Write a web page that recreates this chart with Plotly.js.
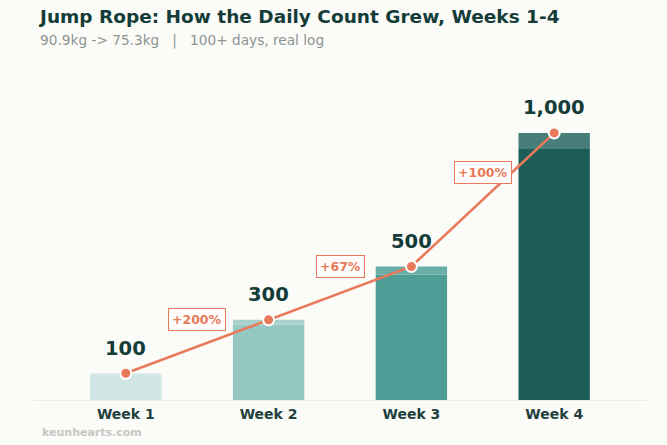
<!DOCTYPE html>
<html>
<head>
<meta charset="utf-8">
<script src="https://cdn.plot.ly/plotly-3.0.1.min.js"></script>
<style>
  html, body { margin: 0; padding: 0; background: #fbfbf8; }
  #chart { width: 667px; height: 445px; }
</style>
</head>
<body>
<div id="chart"></div>
<script>
// Weekly daily jump-rope counts
const weeks = ["Week 1", "Week 2", "Week 3", "Week 4"];
const counts = [100, 300, 500, 1000];
const growthLabels = ["+200%", "+67%", "+100%"];
const countLabels = ["100", "300", "500", "1,000"];

const barColors = ["#d0e7e5", "#96c8c3", "#4f9d97", "#1c5e57"];
const capColors = ["#d6eae8", "#a9d2cd", "#6aaca6", "#477e79"];
const ink = "#143c38";
const accent = "#e8795a";

const xs = weeks.map((_, i) => i);

// main bars
const bars = {
  type: "bar",
  x: xs,
  y: counts.map(v => v * 0.94),
  width: 0.5,
  marker: { color: barColors, line: { width: 0 } },
  hoverinfo: "skip"
};
// lighter cap on top of each bar
const caps = {
  type: "bar",
  x: xs,
  y: counts.map(v => v * 0.06),
  base: counts.map(v => v * 0.94),
  width: 0.5,
  marker: { color: capColors, line: { width: 0 } },
  hoverinfo: "skip"
};
// growth line
const line = {
  type: "scatter",
  mode: "lines+markers",
  x: xs,
  y: counts,
  line: { color: accent, width: 2.6 },
  marker: { size: 11, color: accent, line: { color: "#ffffff", width: 2 } },
  hoverinfo: "skip"
};

const annotations = [];
counts.forEach((v, i) => {
  annotations.push({
    x: i, y: v, xref: "x", yref: "y",
    text: countLabels[i], showarrow: false,
    yshift: 25,
    font: { family: "DejaVu Sans", size: 19.5, color: ink, weight: 700 }
  });
});
growthLabels.forEach((t, i) => {
  annotations.push({
    x: i + 0.5, y: (counts[i] + counts[i + 1]) / 2, xref: "x", yref: "y",
    text: "<b>" + t + "</b>", showarrow: false,
    yshift: 27,
    bgcolor: "#fffdfb", bordercolor: accent, borderwidth: 1, borderpad: 3,
    font: { family: "DejaVu Sans", size: 12.5, color: accent }
  });
});
annotations.push({
  xref: "paper", yref: "paper", x: 0.011, y: -0.097,
  xanchor: "left", yanchor: "middle", showarrow: false,
  text: "<b>keunhearts.com</b>",
  font: { family: "DejaVu Sans", size: 11, color: "#c3c8c6" }
});
annotations.push({
  xref: "paper", yref: "paper", x: 0.008, y: 1.056,
  xanchor: "left", yanchor: "middle", showarrow: false,
  text: "90.9kg -> 75.3kg   |   100+ days, real log",
  font: { family: "DejaVu Sans", size: 13.7, color: "#8b9492" }
});

const layout = {
  width: 667, height: 445,
  margin: { l: 33, r: 20, t: 60, b: 45 },
  paper_bgcolor: "#fbfbf8",
  plot_bgcolor: "#fbfbf8",
  barmode: "overlay",
  showlegend: false,
  title: {
    text: "<b>Jump Rope: How the Daily Count Grew, Weeks 1-4</b>",
    x: 0.06, xanchor: "left", y: 0.962, yanchor: "middle",
    font: { family: "DejaVu Sans", size: 18.5, color: ink }
  },
  xaxis: {
    range: [-0.65, 3.65],
    tickmode: "array", tickvals: xs, ticktext: weeks.map(w => "<b>" + w + "</b>"),
    tickfont: { family: "DejaVu Sans", size: 14, color: "#21403d" },
    ticklabelstandoff: 4,
    showgrid: false, zeroline: false, showline: false, ticks: "",
    fixedrange: true
  },
  yaxis: {
    range: [0, 1273],
    showgrid: false, zeroline: true, zerolinecolor: "#ebebe8", zerolinewidth: 1,
    showticklabels: false, ticks: "", showline: false
  },
  annotations: annotations
};

Plotly.newPlot("chart", [bars, caps, line], layout, { displayModeBar: false, staticPlot: true });
</script>
</body>
</html>
